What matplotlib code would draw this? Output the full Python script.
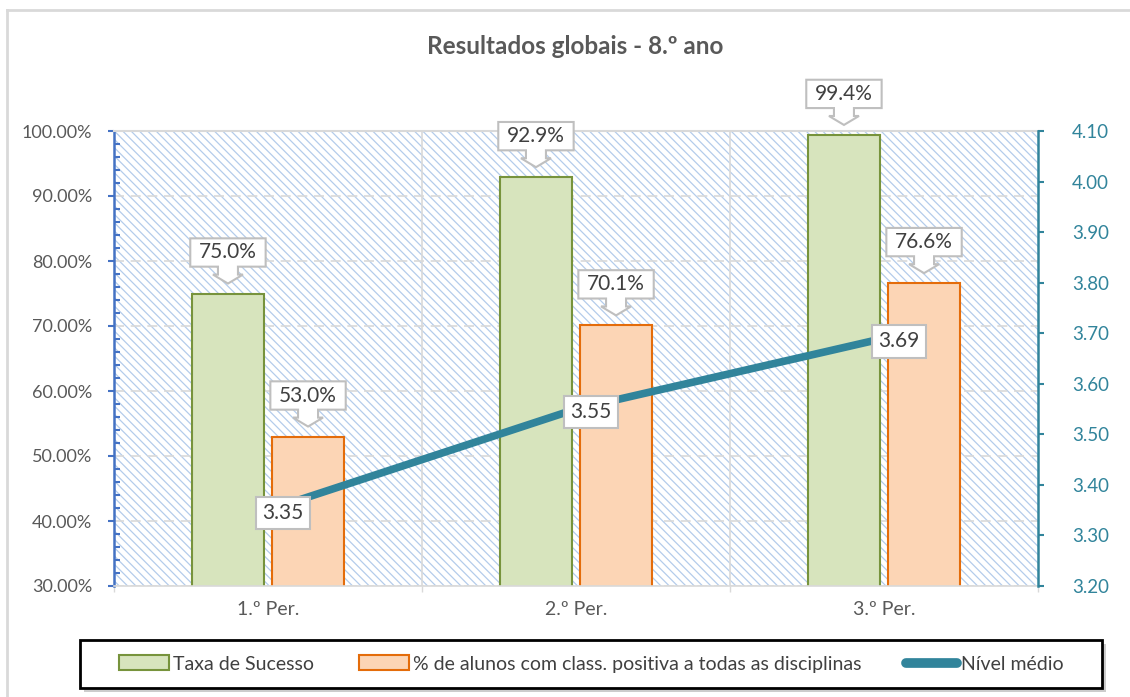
import matplotlib
matplotlib.use("Agg")
import matplotlib.pyplot as plt
from matplotlib.path import Path
from matplotlib.patches import Rectangle, Patch
from matplotlib.lines import Line2D
import numpy as np

plt.rcParams['font.family'] = ['Lato', 'DejaVu Sans']
plt.rcParams['hatch.linewidth'] = 0.9

# data
periods = ["1.º Per.", "2.º Per.", "3.º Per."]
taxa_sucesso = [75.0, 92.9, 99.4]
positiva_todas = [53.0, 70.1, 76.6]
nivel_medio = [3.35, 3.55, 3.69]

txt_col = "#404040"
green_fc, green_ec = "#D7E4BD", "#77933C"
orange_fc, orange_ec = "#FCD5B5", "#E46C0A"
teal = "#31849B"
blue_axis = "#4472C4"
grid_col = "#D9D9D9"


def callout(x0, y0, width, height, mutation_size):
    # rectangle with a down arrow underneath (Excel style data callout)
    s = mutation_size
    px, py = 0.42 * s, 0.2 * s
    l, r = x0 - px, x0 + width + px
    b, t = y0 - py, y0 + height + py
    c = x0 + width / 2
    sw, hw, sh, hh = 0.48 * s, 0.72 * s, 0.38 * s, 0.43 * s
    verts = [(l, b), (c - sw, b), (c - sw, b - sh), (c - hw, b - sh),
             (c, b - sh - hh), (c + hw, b - sh), (c + sw, b - sh),
             (c + sw, b), (r, b), (r, t), (l, t), (l, b)]
    codes = [Path.MOVETO] + [Path.LINETO] * 10 + [Path.CLOSEPOLY]
    return Path(verts, codes)


fig = plt.figure(figsize=(11.3, 6.97), dpi=100)
ax = fig.add_axes([114 / 1130, 1 - 586 / 697, 924 / 1130, 455 / 697])
ax2 = ax.twinx()

# outer chart border (left and top only visible)
fig.add_artist(Line2D([7 / 1130, 7 / 1130], [0, 1 - 10 / 697], transform=fig.transFigure,
                      color=grid_col, lw=2))
fig.add_artist(Line2D([7 / 1130, 1], [1 - 10 / 697, 1 - 10 / 697], transform=fig.transFigure,
                      color=grid_col, lw=2))

# hatched plot background
ax.patch.set_facecolor("white")
ax.add_patch(Rectangle((0, 0), 1, 1, transform=ax.transAxes, facecolor="white",
                       edgecolor="#B4CCEB", lw=0, hatch="\\\\\\\\", zorder=0.1))

x = np.arange(len(periods))
w = 0.234
off = 0.13
ax.bar(x - off, taxa_sucesso, w, color=green_fc, edgecolor=green_ec, lw=1.5, zorder=2)
ax.bar(x + off, positiva_todas, w, color=orange_fc, edgecolor=orange_ec, lw=1.5, zorder=2)

ax.set_xlim(-0.5, 2.5)
ax.set_ylim(30, 100)
ax.set_yticks(np.arange(30, 101, 10))
ax.set_yticks(np.arange(30, 101, 2), minor=True)
ax.set_yticklabels([f"{v:.2f}%" for v in np.arange(30, 101, 10)])
ax.tick_params(axis="y", which="major", direction="out", length=4.5, width=1.5,
               color=blue_axis, labelsize=13, labelcolor="#595959", pad=11)
ax.tick_params(axis="y", which="minor", direction="in", length=4, width=1.5, color=blue_axis)

ax.set_xticks([-0.5, 0.5, 1.5, 2.5])
ax.set_xticklabels([])
ax.set_xticks(x, minor=True)
ax.set_xticklabels(periods, minor=True)
ax.tick_params(axis="x", which="major", direction="out", length=4.5, color=grid_col, width=1)
ax.tick_params(axis="x", which="minor", length=0, labelsize=14, labelcolor="#595959", pad=11)

ax.set_axisbelow(True)
ax.yaxis.grid(True, color=grid_col, linestyle=(0, (6, 4)), lw=1.2, zorder=0.5)
for xv in [0.5, 1.5]:
    ax.axvline(xv, color=grid_col, lw=1.2, zorder=0.5)

ax.spines["left"].set_color(blue_axis)
ax.spines["left"].set_linewidth(1.8)
ax.spines["top"].set_color(grid_col)
ax.spines["top"].set_linewidth(1.5)
ax.spines["bottom"].set_color(grid_col)
ax.spines["bottom"].set_linewidth(1.2)
ax.spines["right"].set_visible(False)

# line on secondary axis
ax2.plot(x, nivel_medio, color=teal, lw=5.5, solid_capstyle="butt", zorder=3)
ax2.set_ylim(3.2, 4.1)
ax2.set_yticks(np.arange(3.2, 4.11, 0.1))
ax2.set_yticklabels([f"{v:.2f}" for v in np.arange(3.2, 4.11, 0.1)])
ax2.tick_params(axis="y", direction="out", length=4.5, width=1.5, color=teal,
                labelsize=13.5, labelcolor=teal, pad=20)
for sp in ["left", "top", "bottom"]:
    ax2.spines[sp].set_visible(False)
ax2.spines["right"].set_color(teal)
ax2.spines["right"].set_linewidth(1.8)

# data labels
box_props = dict(boxstyle=callout, facecolor="white", edgecolor="#BFBFBF", lw=1.5)
for xi, v in zip(x - off, taxa_sucesso):
    ax.annotate(f"{v:.1f}%", (xi, v), xytext=(0, 31), textcoords="offset pixels",
                ha="center", va="bottom", fontsize=15, color=txt_col, bbox=box_props,
                zorder=4, annotation_clip=False)
for xi, v in zip(x + off, positiva_todas):
    ax.annotate(f"{v:.1f}%", (xi, v), xytext=(0, 31), textcoords="offset pixels",
                ha="center", va="bottom", fontsize=15, color=txt_col, bbox=box_props,
                zorder=4, annotation_clip=False)
for xi, v in zip(x, nivel_medio):
    ax2.annotate(f"{v:.2f}", (xi, v), xytext=(15, -3), textcoords="offset pixels",
                 ha="center", va="center", fontsize=15, color=txt_col,
                 bbox=dict(boxstyle="square,pad=0.3", facecolor="white",
                           edgecolor="#BFBFBF", lw=1.5), zorder=4)

fig.text(575 / 1130, 1 - 47 / 697, "Resultados globais - 8.º ano", ha="center", va="center",
         fontsize=17.5, fontweight="bold", color="#595959")

# legend box with shadow
lx0, ly0, lx1, ly1 = 80 / 1130, 1 - 688 / 697, 1102 / 1130, 1 - 640 / 697
fig.add_artist(Rectangle((lx0 + 4 / 1130, ly0 - 4 / 697), lx1 - lx0, ly1 - ly0,
                         transform=fig.transFigure, facecolor="#9a9a9a", alpha=0.5,
                         edgecolor="none"))
fig.add_artist(Rectangle((lx0, ly0), lx1 - lx0, ly1 - ly0, transform=fig.transFigure,
                         facecolor="white", edgecolor="black", lw=2))
handles = [Patch(facecolor=green_fc, edgecolor=green_ec, lw=1.5),
           Patch(facecolor=orange_fc, edgecolor=orange_ec, lw=1.5),
           Line2D([0], [0], color=teal, lw=7, solid_capstyle="round")]
labels = ["Taxa de Sucesso", "% de alunos com class. positiva a todas as disciplinas",
          "Nível médio"]
leg = fig.legend(handles, labels, loc="center", bbox_to_anchor=(591 / 1130, 1 - 664 / 697),
                 ncol=3, frameon=False, fontsize=14, handlelength=2.6, handleheight=0.8,
                 handletextpad=0.2, columnspacing=2.3)
for t in leg.get_texts():
    t.set_color(txt_col)

fig.savefig("out.png", dpi=100)
